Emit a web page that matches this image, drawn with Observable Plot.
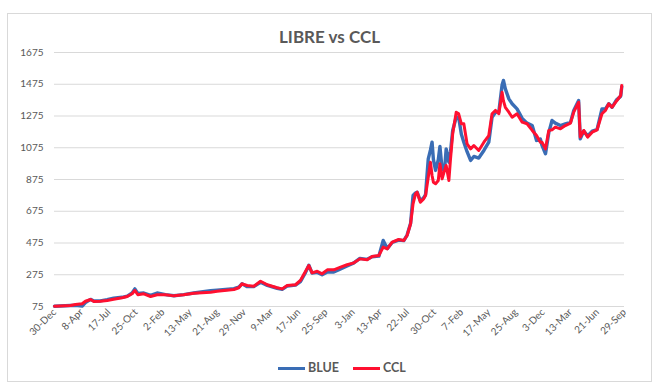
<!DOCTYPE html>
<html>
<head>
<meta charset="utf-8">
<script src="https://cdn.jsdelivr.net/npm/d3@7"></script>
<script src="https://cdn.jsdelivr.net/npm/@observablehq/plot@0.6"></script>
<style>
  body { margin: 0; background: #fff; }
  #wrap { position: relative; width: 667px; height: 392px; background: #fff; font-family: Lato, "Open Sans", sans-serif; overflow: hidden; }
  #frame { position: absolute; left: 7px; top: 13px; width: 645px; height: 369px; border: 1px solid #d9d9d9; box-sizing: border-box; }
  #title { position: absolute; left: 7px; width: 645px; top: 26px; text-align: center; font-size: 17px; font-weight: bold; color: #595959; line-height: 22px; }
  #chart { position: absolute; left: 0; top: 45px; }
  #legend { position: absolute; left: 278px; top: 360px; display: flex; align-items: center; font-size: 12.5px; font-weight: bold; color: #595959; line-height: 16px; }
  .sw { display: inline-block; width: 27px; height: 3px; margin-right: 3px; }
</style>
</head>
<body>
<div id="wrap">
  <div id="frame"></div>
  <div id="title">LIBRE vs CCL</div>
  <div id="chart"></div>
  <div id="legend"></div>
</div>
<script>
const seriesNames = ["BLUE", "CCL"];
const seriesColors = ["#3a6db5", "#ff1030"];

const dates = [
  "2019-12-30","2020-02-27","2020-03-16","2020-04-10","2020-04-22","2020-05-11","2020-05-23","2020-06-16","2020-07-11","2020-08-04","2020-09-04","2020-09-23","2020-10-11","2020-10-21","2020-11-01","2020-11-23","2020-12-18",
  "2021-01-11","2021-02-11","2021-03-14","2021-04-19","2021-05-26","2021-07-27","2021-08-20","2021-10-21","2021-11-08","2021-11-20","2021-12-09",
  "2022-01-02","2022-01-27","2022-02-21","2022-03-29","2022-04-17","2022-05-05","2022-06-05","2022-06-23","2022-07-12","2022-07-24","2022-08-05","2022-08-24","2022-09-11","2022-09-30","2022-10-24","2022-11-18","2022-12-12",
  "2023-01-06","2023-01-28","2023-02-24","2023-03-14","2023-04-08","2023-04-24","2023-05-09","2023-05-27","2023-06-20","2023-07-09","2023-07-21","2023-08-03","2023-08-12","2023-08-21","2023-08-27","2023-09-08","2023-09-20","2023-09-27","2023-10-07","2023-10-15","2023-10-21","2023-10-26","2023-11-03","2023-11-13","2023-11-19","2023-11-27","2023-12-06","2023-12-12","2023-12-22","2023-12-28",
  "2024-01-05","2024-01-18","2024-01-27","2024-02-06","2024-02-15","2024-02-27","2024-03-11","2024-03-23","2024-04-10","2024-04-29","2024-05-17","2024-05-29","2024-06-11","2024-06-23","2024-07-05","2024-07-10","2024-07-17","2024-07-30","2024-08-11","2024-08-29","2024-09-17","2024-10-05","2024-10-24","2024-11-09","2024-11-23","2024-11-29","2024-12-12","2024-12-24",
  "2025-01-05","2025-01-17","2025-02-05","2025-02-23","2025-03-14","2025-03-26","2025-04-13","2025-04-19","2025-05-02","2025-05-16","2025-06-02","2025-06-20","2025-07-08","2025-07-21","2025-08-02","2025-08-14","2025-08-30","2025-09-15","2025-09-19"
];

const blueValues = [
  77,81,82,78,100,120,110,110,118,128,133,140,160,186,158,160,145,
  160,150,143,150,160,174,177,187,197,218,200,
  200,228,208,190,183,203,210,232,290,335,285,290,275,292,292,312,330,
  350,378,372,388,392,491,440,478,493,490,525,600,774,790,795,740,760,780,1005,1060,1110,1000,932,1000,1083,940,932,1068,984,1050,
  1184,1267,1267,1160,1110,1050,995,1020,1010,1058,1110,1267,1299,1300,1470,1499,1446,1383,1352,1320,1260,1230,1215,1121,1130,1090,1037,1170,
  1247,1230,1215,1226,1235,1310,1372,1131,1180,1150,1180,1190,1320,1320,1352,1330,1375,1400,1460
];

const cclValues = [
  77,81,88,92,108,119,106,108,113,121,130,138,155,176,149,155,138,
  149,149,142,149,159,165,171,182,193,218,207,
  203,234,212,193,186,207,212,239,297,333,287,297,281,306,306,323,338,
  350,375,369,390,396,449,438,480,497,491,522,596,722,785,795,732,753,774,889,984,900,858,848,869,974,879,932,963,869,1005,
  1163,1299,1289,1226,1226,1100,1068,1089,1058,1110,1152,1289,1310,1289,1425,1370,1330,1299,1267,1289,1236,1226,1184,1152,1110,1110,1068,1184,
  1188,1205,1194,1215,1230,1299,1362,1142,1184,1142,1173,1188,1289,1310,1352,1330,1368,1404,1467
];

const xTicks = ["2019-12-30","2020-04-08","2020-07-17","2020-10-25","2021-02-02","2021-05-13","2021-08-21","2021-11-29","2022-03-09","2022-06-17","2022-09-25","2023-01-03","2023-04-13","2023-07-22","2023-10-30","2024-02-07","2024-05-17","2024-08-25","2024-12-03","2025-03-13","2025-06-21","2025-09-29"];
const yTicks = [75, 275, 475, 675, 875, 1075, 1275, 1475, 1675];

const blueData = dates.map((d, i) => ({date: new Date(d), value: blueValues[i]}));
const cclData = dates.map((d, i) => ({date: new Date(d), value: cclValues[i]}));
const xTickDates = xTicks.map(d => new Date(d));
const fmt = d3.utcFormat("%-d-%b");

const chart = Plot.plot({
  width: 667,
  height: 305,
  marginLeft: 54,
  marginRight: 43,
  marginTop: 7,
  marginBottom: 44,
  style: {fontFamily: "Lato, 'Open Sans', sans-serif", color: "#595959", background: "transparent"},
  x: {type: "utc", domain: [xTickDates[0], xTickDates[xTickDates.length - 1]]},
  y: {domain: [yTicks[0], yTicks[yTicks.length - 1]]},
  marks: [
    Plot.gridY(yTicks, {stroke: "#d9d9d9", strokeOpacity: 1, strokeWidth: 1}),
    Plot.axisY(yTicks, {tickSize: 0, tickPadding: 11, fontSize: 10, label: null, fill: "#595959", tickFormat: d => String(d)}),
    Plot.axisX(xTickDates, {tickSize: 0, tickPadding: 4, tickRotate: -45, tickFormat: fmt, fontSize: 10, label: null, fill: "#595959"}),
    Plot.line(blueData, {x: "date", y: "value", stroke: seriesColors[0], strokeWidth: 3.4, strokeLinejoin: "round"}),
    Plot.line(cclData, {x: "date", y: "value", stroke: seriesColors[1], strokeWidth: 3, strokeLinejoin: "round"})
  ]
});
document.getElementById("chart").appendChild(chart);

const legend = document.getElementById("legend");
seriesNames.forEach((name, i) => {
  const item = document.createElement("span");
  item.style.display = "inline-flex";
  item.style.alignItems = "center";
  item.style.marginRight = i === 0 ? "14px" : "0";
  const sw = document.createElement("span");
  sw.className = "sw";
  sw.style.background = seriesColors[i];
  item.appendChild(sw);
  item.appendChild(document.createTextNode(name));
  legend.appendChild(item);
});
</script>
</body>
</html>
